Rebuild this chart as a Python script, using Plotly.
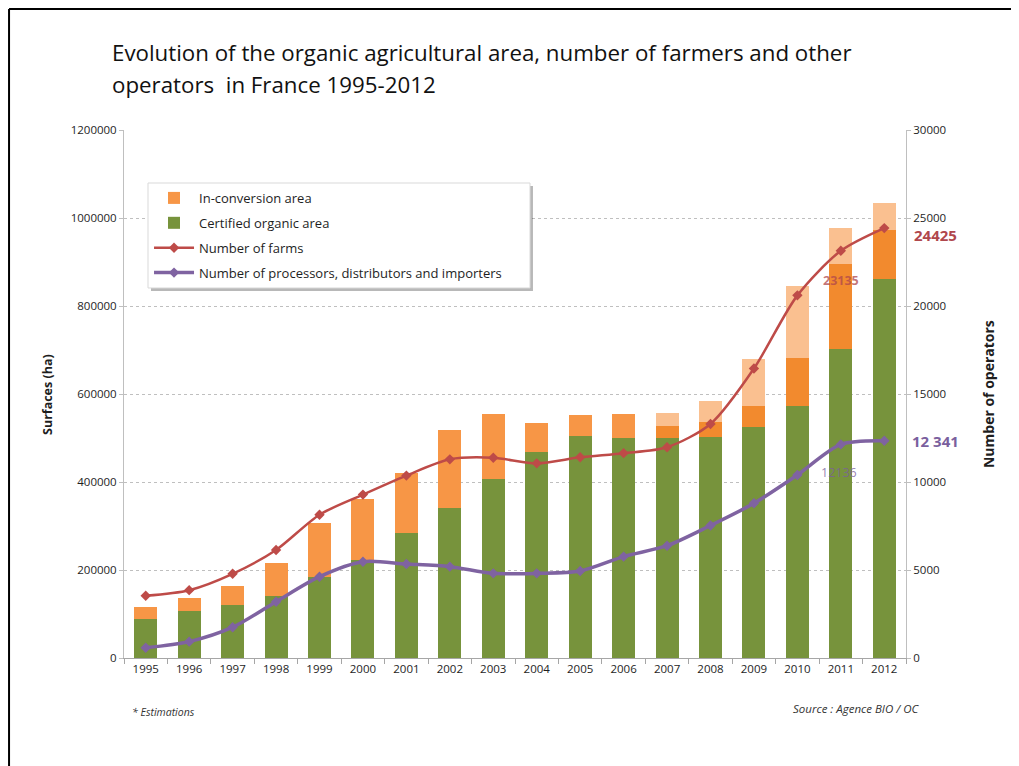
import plotly.graph_objects as go

years = ["1995", "1996", "1997", "1998", "1999", "2000", "2001", "2002", "2003",
         "2004", "2005", "2006", "2007", "2008", "2009", "2010", "2011", "2012"]

certified_area = [89000, 107500, 119700, 141000, 184800, 222700, 283400, 341700, 406000,
                  468000, 504500, 499300, 499000, 503000, 524300, 572700, 701500, 862000]

conversion_area = [27600, 28200, 44600, 75600, 121200, 138000, 136300, 176300, 147800,
                   66800, 47000, 55200, 28000, 34000, 49100, 109800, 194000, 110700]

estimated_conversion = [0, 0, 0, 0, 0, 0, 0, 0, 0,
                        0, 0, 0, 29000, 47800, 105400, 163500, 82500, 60300]

farms = [3538, 3854, 4784, 6139, 8140, 9283, 10364, 11288, 11377,
         11059, 11402, 11640, 11978, 13298, 16446, 20604, 23135, 24425]

processors = [585, 930, 1750, 3200, 4620, 5470, 5340, 5190, 4810,
              4810, 4940, 5760, 6380, 7530, 8790, 10400, 12136, 12341]

conv_colors = ["#F79646"] * 12 + ["#F28A2E"] * 6

FONT = "Open Sans"
TXT = "#1E1E1E"

fig = go.Figure()

fig.add_trace(go.Bar(
    x=years, y=certified_area, name="Certified organic area", legendgroup="b",
    marker=dict(color="#77933C", line=dict(width=0)), legendrank=2,
))
fig.add_trace(go.Bar(
    x=years, y=conversion_area, name="In-conversion area", legendgroup="a",
    marker=dict(color=conv_colors, line=dict(width=0)), legendrank=1,
))
fig.add_trace(go.Bar(
    x=years, y=estimated_conversion, name="Estimated in-conversion area",
    marker=dict(color="#FAC090", line=dict(width=0)), showlegend=False,
))
fig.add_trace(go.Scatter(
    x=years, y=farms, name="Number of farms", yaxis="y2", mode="lines+markers",
    legendgroup="c",
    line=dict(color="#BE4B48", width=2.5, shape="spline", smoothing=0.8),
    marker=dict(symbol="diamond", size=8, color="#BE4B48"), legendrank=3,
))
fig.add_trace(go.Scatter(
    x=years, y=processors, name="Number of processors, distributors and importers",
    yaxis="y2", mode="lines+markers", legendgroup="d",
    line=dict(color="#7F63A1", width=3.5, shape="spline", smoothing=0.8),
    marker=dict(symbol="diamond", size=8, color="#7F63A1"), legendrank=4,
))

n = len(years)
annotations = [
    dict(text="Evolution of the organic agricultural area, number of farmers and other",
         xref="paper", yref="paper", x=-0.018, y=1.1477, xanchor="left", yanchor="middle",
         showarrow=False, font=dict(family=FONT, size=22.3, color="#111111")),
    dict(text="operators  in France 1995-2012",
         xref="paper", yref="paper", x=-0.018, y=1.0871, xanchor="left", yanchor="middle",
         showarrow=False, font=dict(family=FONT, size=22.3, color="#111111")),
    dict(text="<b>Surfaces (ha)</b>", xref="paper", yref="paper", x=-0.0985, y=0.5,
         textangle=-90, showarrow=False, xanchor="center", yanchor="middle",
         font=dict(family=FONT, size=12.5, color=TXT)),
    dict(text="<b>Number of operators</b>", xref="paper", yref="paper", x=1.1049, y=0.5,
         textangle=-90, showarrow=False, xanchor="center", yanchor="middle",
         font=dict(family=FONT, size=14, color=TXT)),
    dict(text="<i>* Estimations</i>", xref="paper", yref="paper", x=0.008, y=-0.102,
         xanchor="left", yanchor="middle", showarrow=False,
         font=dict(family=FONT, size=10.5, color="#333333")),
    dict(text="<i>Source : Agence BIO / OC</i>", xref="paper", yref="paper", x=1.02, y=-0.095,
         xanchor="right", yanchor="middle", showarrow=False,
         font=dict(family=FONT, size=11.5, color="#333333")),
    dict(text="<b>24425</b>", x=n - 1, y=farms[-1], xref="x", yref="y2",
         xshift=51, yshift=-7, showarrow=False,
         font=dict(family=FONT, size=15, color="#B0474C")),
    dict(text="<b>12 341</b>", x=n - 1, y=processors[-1], xref="x", yref="y2",
         xshift=51, yshift=0, showarrow=False,
         font=dict(family=FONT, size=15, color="#7A5F9E")),
    dict(text="<b>23135</b>", x=n - 2, y=farms[-2], xref="x", yref="y2",
         xshift=0, yshift=-30, showarrow=False,
         font=dict(family=FONT, size=12.5, color="rgba(176,71,76,0.75)")),
    dict(text="12136", x=n - 2, y=processors[-2], xref="x", yref="y2",
         xshift=-2, yshift=-28, showarrow=False,
         font=dict(family=FONT, size=12.5, color="rgba(122,95,158,0.8)")),
]

shapes = [
    # legend shadow and box
    dict(type="rect", xref="paper", yref="paper", x0=0.0345, x1=0.5230, y0=0.6951, y1=0.8939,
         fillcolor="rgba(0,0,0,0.28)", line=dict(width=0), layer="above"),
    dict(type="rect", xref="paper", yref="paper", x0=0.0307, x1=0.5192, y0=0.7008, y1=0.8996,
         fillcolor="white", line=dict(color="#D9D9D9", width=1), layer="above"),
    # outer frame (left and top)
    dict(type="line", xref="paper", yref="paper", x0=-0.147, x1=-0.147, y0=1.229, y1=-0.25,
         line=dict(color="#000000", width=2)),
    dict(type="line", xref="paper", yref="paper", x0=-0.147, x1=1.2, y0=1.229, y1=1.229,
         line=dict(color="#000000", width=2)),
]

fig.update_layout(
    width=1011, height=758,
    margin=dict(l=116, r=113, t=122, b=108),
    paper_bgcolor="white", plot_bgcolor="white",
    barmode="stack", bargap=0.47,
    font=dict(family=FONT, size=11, color=TXT),
    showlegend=True,
    legend=dict(x=0.0320, y=0.8997, xanchor="left", yanchor="top",
                bgcolor="rgba(0,0,0,0)", borderwidth=0, tracegroupgap=5,
                traceorder="grouped", font=dict(family=FONT, size=13, color=TXT),
                itemwidth=40),
    xaxis=dict(type="category", range=[-0.5, n - 0.5], autorange=False,
               showline=True, linecolor="#A6A6A6", linewidth=1,
               ticks="outside", tickson="boundaries", ticklen=5, tickcolor="#A6A6A6",
               showgrid=False, tickfont=dict(family=FONT, size=11.5, color=TXT)),
    yaxis=dict(range=[0, 1200000], dtick=200000, tickformat="d",
               showline=True, linecolor="#BFBFBF", ticks="outside", ticklen=4,
               tickcolor="#BFBFBF", showgrid=True, gridcolor="#BFBFBF", griddash="dot",
               gridwidth=1, zeroline=False, tickfont=dict(family=FONT, size=11.5, color=TXT)),
    yaxis2=dict(range=[0, 30000], dtick=5000, tickformat="d", overlaying="y", side="right",
                showline=True, linecolor="#BFBFBF", ticks="outside", ticklen=4,
                tickcolor="#BFBFBF", showgrid=False, zeroline=False,
                tickfont=dict(family=FONT, size=11.5, color=TXT)),
    annotations=annotations,
    shapes=shapes,
)

fig.write_html("out.html")
